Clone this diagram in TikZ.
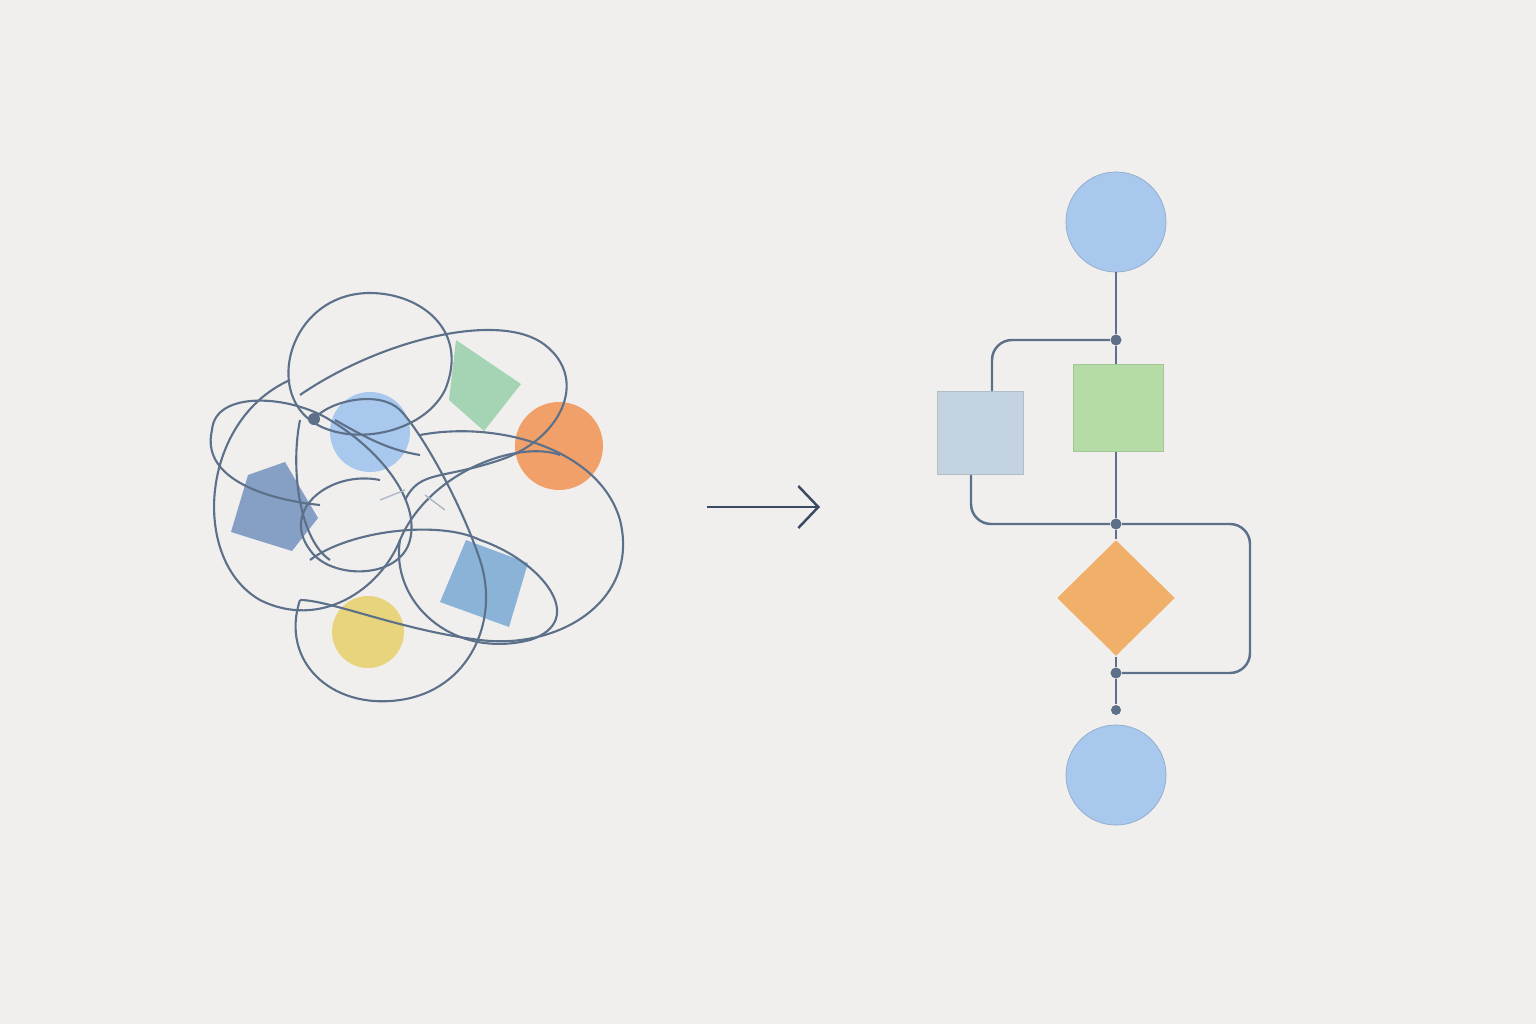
\documentclass[tikz,border=0pt]{standalone}
\usetikzlibrary{arrows.meta,shapes.geometric}
\definecolor{bg}{HTML}{F0EFEE}
\definecolor{ln}{HTML}{5C7089}
\definecolor{cblue}{HTML}{A8C8EE}
\definecolor{cgreen}{HTML}{B5DBA6}
\definecolor{cgrey}{HTML}{C3D3DF}
\definecolor{corange}{HTML}{F0B06A}
\definecolor{torange}{HTML}{F0A068}
\definecolor{tgreen}{HTML}{A5D4B5}
\definecolor{tyellow}{HTML}{E9D47E}
\definecolor{tdblue}{HTML}{869FC4}
\definecolor{tmblue}{HTML}{8BB3D8}
\definecolor{arr}{HTML}{3A4A63}
\begin{document}
\begin{tikzpicture}[x=0.01cm,y=-0.01cm,
  wire/.style={draw=ln,line width=0.7pt,rounded corners=0.2cm},
  knot/.style={circle,fill=ln,inner sep=0pt,minimum size=0.11cm},
  tangle/.style={draw=ln,line width=0.6pt},
  big/.style={circle,fill=cblue,draw=cblue!85!black,line width=0.2pt,minimum size=1cm,inner sep=0pt}]
\fill[bg] (0,0) rectangle (1536,1024);
\useasboundingbox (0,0) rectangle (1536,1024);
% left tangle shapes
\fill[tgreen] (456,340) -- (521,384) -- (484,431) -- (449,400) -- cycle;
\fill[torange] (559,446) circle (44);
\fill[tyellow] (368,632) circle (36);
\fill[tdblue] (248,475) -- (285,462) -- (318,518) -- (292,551) -- (231,532) -- cycle;
\fill[tmblue] (466,540) -- (528,563) -- (509,627) -- (440,602) -- cycle;
\fill[cblue] (370,432) circle (40);
% tangle curves
\draw[tangle] (370,293) .. controls (300,293) and (270,370) .. (300,410) .. controls (330,450) and (420,440) .. (445,390) .. controls (470,330) and (420,293) .. (370,293);
\draw[tangle] (300,395) .. controls (380,340) and (500,310) .. (545,345) .. controls (590,380) and (560,440) .. (500,460) .. controls (440,480) and (420,470) .. (405,500);
\draw[tangle] (212,430) .. controls (215,390) and (290,395) .. (330,420) .. controls (380,450) and (420,500) .. (410,540) .. controls (400,580) and (330,580) .. (310,550) .. controls (280,510) and (330,470) .. (380,480);
\draw[tangle] (212,430) .. controls (200,480) and (270,500) .. (320,505);
\draw[tangle] (290,380) .. controls (200,420) and (190,560) .. (260,600) .. controls (320,630) and (380,590) .. (400,540) .. controls (430,470) and (520,440) .. (560,455);
\draw[tangle] (300,600) .. controls (280,660) and (330,710) .. (400,700) .. controls (470,690) and (500,620) .. (480,560) .. controls (460,500) and (420,430) .. (400,410) .. controls (380,390) and (330,400) .. (314,419);
\draw[tangle] (310,560) .. controls (350,530) and (440,520) .. (480,540) .. controls (540,560) and (590,620) .. (530,640) .. controls (450,660) and (390,600) .. (400,540);
\draw[tangle] (420,435) .. controls (500,420) and (600,450) .. (620,520) .. controls (640,600) and (560,650) .. (480,640) .. controls (400,630) and (330,600) .. (300,600);
\draw[tangle] (300,420) .. controls (290,470) and (300,540) .. (330,560);
\draw[tangle] (335,420) .. controls (370,440) and (390,450) .. (420,455);
\draw[tangle,line width=0.4pt,ln!50] (380,500) -- (405,490);
\draw[tangle,line width=0.4pt,ln!50] (425,495) -- (445,510);
\node[knot,minimum size=0.12cm] (tk) at (314,419) {};
% arrow
\coordinate (a1) at (707,507); \coordinate (a2) at (820,507);
\draw[arr,line width=0.7pt,-{Straight Barb[length=0.2cm,width=0.42cm,line width=0.7pt]}] (a1) -- (a2);
% flowchart
\node[big] (top) at (1116,222) {};
\node[big] (bot) at (1116,775) {};
\node[knot] (d1) at (1116,340) {};
\node[knot] (d2) at (1116,524) {};
\node[knot] (d3) at (1116,673) {};
\node[knot,minimum size=0.1cm] (d4) at (1116,710) {};
\node[rectangle,fill=cgrey,draw=cgrey!90!black,line width=0.2pt,minimum width=0.86cm,minimum height=0.83cm,inner sep=0pt] (gs) at (980,433) {};
\node[rectangle,fill=cgreen,draw=cgreen!90!black,line width=0.2pt,minimum width=0.9cm,minimum height=0.87cm,inner sep=0pt] (gr) at (1118,408) {};
\node[diamond,fill=corange,minimum width=1.18cm,minimum height=1.16cm,inner sep=0pt] (dm) at (1116,598) {};
\draw[wire] (top) -- (d1);
\draw[wire] (d1) -- (gr.north -| d1);
\draw[wire] (d1) -| (gs.north -| 992,0);
\draw[wire] (gr.south -| d2) -- (d2);
\draw[wire] (gs.south -| 971,0) |- (d2);
\draw[wire] (d2) -- (dm.north);
\draw[wire] (dm.south) -- (d3);
\draw[wire] (d2) -- (1250,524) -- (1250,673) -- (d3);
\draw[wire] (d3) -- (d4);
\end{tikzpicture}
\end{document}
